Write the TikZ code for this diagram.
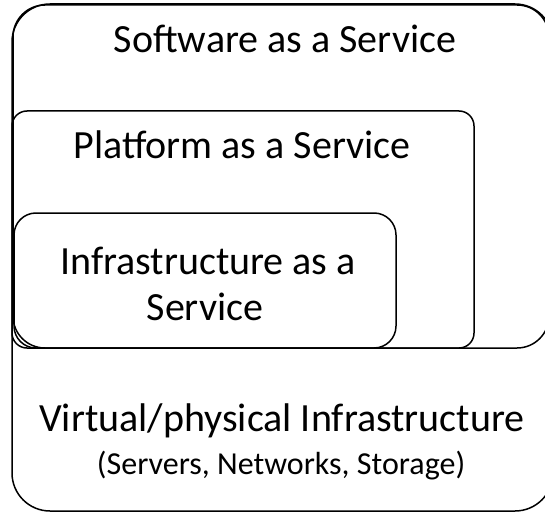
\documentclass[tikz,border=0pt]{standalone}
\usepackage{fontspec}
\setmainfont{Carlito}
\begin{document}
\begin{tikzpicture}[x=1pt,y=-1pt,
  layer/.style={draw=black,line width=1.5pt,fill=none},
  big/.style={font=\fontsize{40}{48}\selectfont,anchor=base,inner sep=0pt},
  small/.style={font=\fontsize{32}{38}\selectfont,anchor=base,inner sep=0pt}]
\useasboundingbox (0,0) rectangle (545,513);
\begin{scope}
\clip (0,0) rectangle (545,513);
\draw[layer,rounded corners=38pt] (12,4) rectangle (553,511);
\draw[layer,rounded corners=32pt] (13,5) rectangle (549,348);
\draw[layer,rounded corners=15pt] (12,111) rectangle (474,348);
\draw[layer,rounded corners=22pt] (14,213) rectangle (396,348);
\end{scope}
\node[big] (saas) at (285,53) {Software as a Service};
\node[big] (paas) at (242,158) {Platform as a Service};
\node[big] (iaas1) at (208,274) {Infrastructure as a};
\node[big] (iaas2) at (205,320) {Service};
\node[big] (virt) at (282,431) {Virtual/physical Infrastructure};
\node[small] (res) at (281,474) {(Servers, Networks, Storage)};
\end{tikzpicture}
\end{document}
